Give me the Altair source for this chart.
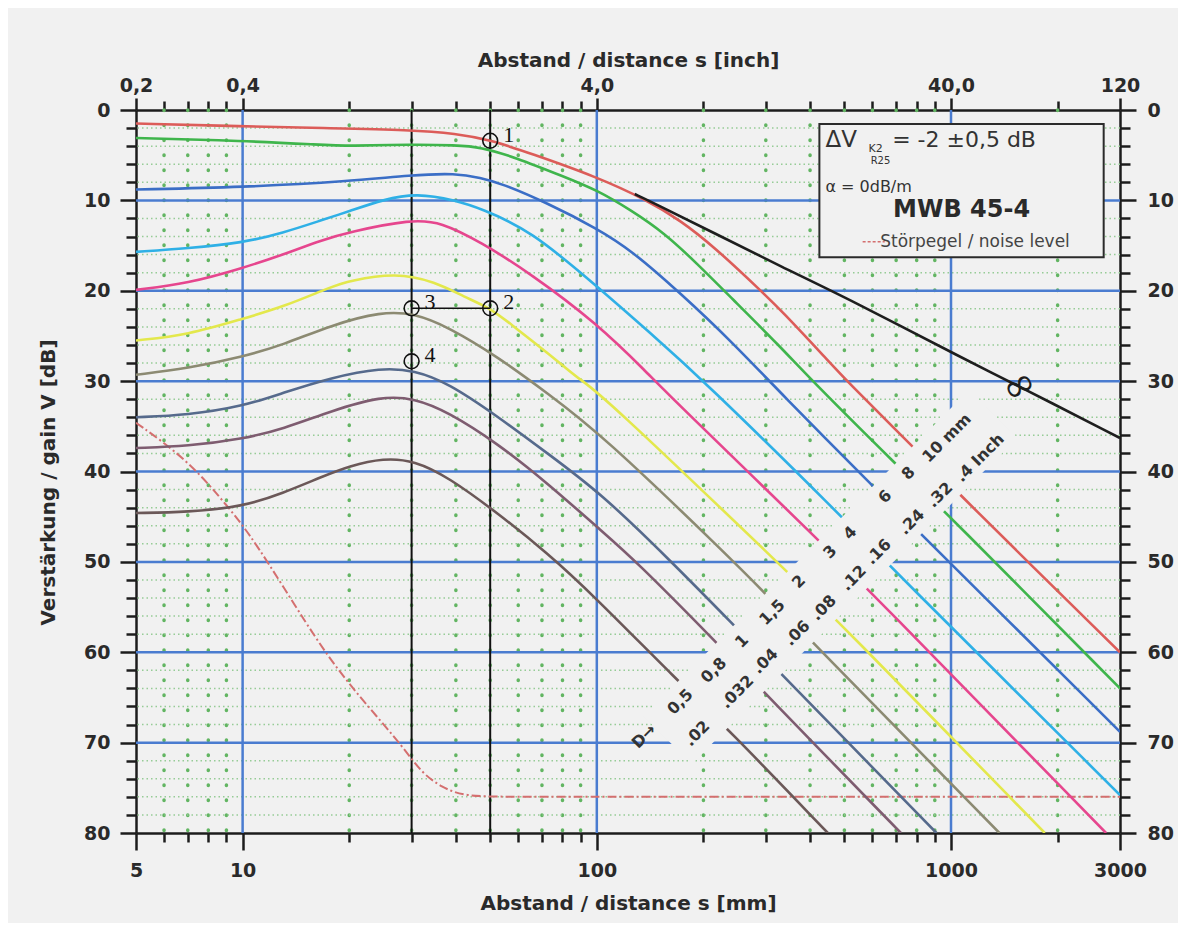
import altair as alt
import pandas as pd

PAPER = "#f1f1f1"

# ---------------- DGS curves: distance s [mm] -> gain V [dB] ----------------
curve_labels = ["10", "8", "6", "4", "3", "2", "1,5", "1", "0,8", "0,5"]
curve_colors = ["#dc5c59", "#3fb54c", "#3b6ec6", "#2fb0e6", "#e6468e",
                "#e3e84c", "#8c8a72", "#566a8c", "#7e5c70", "#6b5858"]

d10_mm = [5, 10, 16.7, 30, 40, 50, 65, 100, 139, 172, 214, 296, 330, 449, 508, 783, 1072, 3000]
d10_db = [1.5, 1.8, 2.0, 2.2, 2.6, 3.3, 4.8, 7.4, 10.0, 12.2, 15.1, 20.3, 22.1, 27.7, 30.0, 37.3, 42.8, 60.0]

d8_mm = [5, 10, 16.7, 20, 30, 40, 47, 58.5, 81, 100, 125, 155, 192, 238.5, 330, 406, 703, 983, 3000]
d8_db = [3.1, 3.4, 3.85, 4.0, 3.8, 3.9, 4.1, 5.2, 7.4, 8.85, 11.1, 13.6, 17.0, 20.7, 26.2, 30.0, 39.3, 44.8, 64.0]

d6_mm = [5, 10, 20, 30, 40, 47, 53.6, 72.6, 100, 125, 172.5, 238.5, 330, 604, 827, 3000]
d6_db = [8.8, 8.55, 7.9, 7.2, 7.0, 7.5, 8.1, 10.3, 13.1, 15.5, 20.3, 25.5, 31.3, 41.7, 47.0, 68.8]

d4_mm = [5, 7, 10, 13, 16.7, 20, 25, 31, 40, 47, 65, 100, 139, 201, 492, 673, 3000]
d4_db = [15.7, 15.3, 14.7, 13.6, 12.2, 11.2, 9.9, 9.2, 10.0, 10.9, 13.3, 19.5, 24.4, 30.0, 45.0, 50.5, 75.8]

d3_mm = [5, 7, 10, 13, 16.7, 20, 30, 36.3, 47, 65, 100, 139, 165, 423, 579, 2740]
d3_db = [19.9, 19.2, 17.5, 16.0, 14.4, 13.5, 12.1, 12.4, 14.6, 18.1, 23.6, 29.1, 32.1, 47.6, 52.9, 80.0]

d2_mm = [5, 7, 10, 13, 17.8, 20, 27, 35, 42.3, 50, 58.5, 65.2, 81, 90, 102.6, 341, 476, 1840]
d2_db = [25.5, 24.9, 23.1, 21.8, 19.55, 18.9, 18.0, 19.0, 20.7, 21.9, 24.0, 25.45, 28.4, 29.9, 31.35, 50.9, 56.4, 80.0]

d15_mm = [5, 7, 10, 13, 17.8, 24.6, 30.6, 38, 52.5, 72.6, 102.6, 238.5, 299, 409, 1370]
d15_db = [29.3, 28.6, 27.3, 26.0, 23.8, 22.3, 22.5, 24.0, 27.3, 31.35, 35.8, 49.6, 53.5, 59.0, 80.0]

d1_mm = [5, 7, 10, 13, 17.8, 24.6, 30.6, 38, 52.5, 72.6, 102.6, 158, 243.7, 333.5, 910]
d1_db = [34.0, 33.75, 32.8, 31.3, 29.6, 28.5, 28.8, 30.2, 33.9, 38.0, 42.4, 49.5, 57.0, 62.5, 80.0]

d08_mm = [5, 7, 10, 13, 17.8, 24.6, 30.6, 38, 52.5, 72.6, 102.6, 127.4, 218.8, 296, 722]
d08_db = [37.4, 37.2, 36.4, 35.3, 33.3, 31.65, 31.9, 33.4, 36.9, 41.3, 46.5, 49.7, 59.0, 64.4, 80.0]

d05_mm = [5, 7, 10, 13, 16.7, 20, 25, 30.6, 38, 52.5, 72.6, 96.6, 170.6, 233.4, 449]
d05_db = [44.6, 44.5, 43.9, 42.4, 40.6, 39.4, 38.5, 38.8, 40.6, 44.6, 49.05, 53.5, 63.3, 68.4, 80.0]

# back-wall curve (D = infinity)
inf_mm = [128, 145, 214, 330, 521, 1106, 1492, 3000]
inf_db = [9.3, 10.3, 13.6, 17.3, 21.0, 27.7, 30.2, 36.3]
inf_label_mm = [1560]
inf_label_db = [30.6]

# noise level (Störpegel)
noise_mm = [5, 7, 9.1, 10.8, 15.3, 18.6, 22.6, 28.4, 32.1, 36.4, 42.2, 60, 3000]
noise_db = [34.6, 38.7, 43.9, 47.6, 57.2, 62.0, 66.0, 70.5, 73.4, 74.9, 76.0, 76.0, 76.0]

# diagonal curve labels
mm_label_text = ["D→", "0,5", "0,8", "1", "1,5", "2", "3", "4", "6", "8", "10 mm"]
mm_label_x = [136, 172, 214, 257, 313, 372, 456, 519, 652, 758, 973]
mm_label_y = [69.3, 65.5, 62.0, 58.8, 55.6, 52.2, 48.9, 46.8, 42.8, 40.2, 36.3]
inch_label_text = [".02", ".032", ".04", ".06", ".08", ".12", ".16", ".24", ".32", ".4 Inch"]
inch_label_x = [192, 249, 299, 368, 437, 531, 624, 775, 931, 1207]
inch_label_y = [69.0, 64.4, 61.0, 57.9, 55.1, 51.8, 48.9, 45.6, 42.6, 38.5]
# blank strip behind the labels (ends of its centre line)
band_mm = [158.5, 1317]
band_db = [69.7, 33.6]

# evaluation points 1-4
pt_text = ["1", "2", "3", "4"]
pt_mm = [50, 50, 30, 30]
pt_db = [3.4, 21.94, 21.94, 27.8]
link_mm = [30]
link_mm2 = [50]
link_db = [21.94]

# grid / axis values
x_ticks = [5, 6, 7, 8, 9, 10, 20, 30, 40, 50, 60, 70, 80, 90, 100,
           200, 300, 400, 500, 600, 700, 800, 900, 1000, 2000, 3000]
x_major = [5, 10, 100, 1000, 3000]
x_top_labels = ["0,2", "0,4", "4,0", "40,0", "120"]
y_ticks = list(range(0, 81, 2))
blue_x = [10, 100, 1000]
blue_y = [10, 20, 30, 40, 50, 60, 70]
black_x = [30, 50]

# legend box
box_mm = [425]
box_mm2 = [2698]
box_db = [1.55]
box_db2 = [16.3]
leg_dv_x, leg_dv_y = [442], [3.32]
leg_eq_x, leg_eq_y = [682], [3.32]
leg_k2_x, leg_k2_y = [585], [4.35]
leg_r25_x, leg_r25_y = [593], [5.65]
leg_alpha_x, leg_alpha_y = [442], [8.5]
leg_mwb_x, leg_mwb_y = [1071], [11.07]
leg_noise_x, leg_noise_y = [631], [14.57]
leg_sample_mm, leg_sample_mm2, leg_sample_db = [563], [650], [14.57]

# ---------------- build tables ----------------
series = [(d10_mm, d10_db), (d8_mm, d8_db), (d6_mm, d6_db), (d4_mm, d4_db), (d3_mm, d3_db),
          (d2_mm, d2_db), (d15_mm, d15_db), (d1_mm, d1_db), (d08_mm, d08_db), (d05_mm, d05_db)]
rows = []
for lab, (mm, db) in zip(curve_labels, series):
    for k, (m, v) in enumerate(zip(mm, db)):
        rows.append({"D": lab, "mm": m, "dB": v, "k": k})
df_curves = pd.DataFrame(rows)
df_inf = pd.DataFrame({"mm": inf_mm, "dB": inf_db, "k": range(len(inf_mm))})
df_noise = pd.DataFrame({"mm": noise_mm, "dB": noise_db, "k": range(len(noise_mm))})

xscale = alt.Scale(type="log", domain=[5, 3000], nice=False)
yscale = alt.Scale(domain=[0, 80], reverse=True, nice=False, zero=False)

FONT = "DejaVu Sans"
INK = "#2a2a2a"
axis_style = dict(
    domainColor="#1c1c1c", domainWidth=2.5, tickColor="#1c1c1c", tickWidth=2.5,
    labelFont=FONT, labelFontWeight="bold", labelFontSize=19, labelColor=INK,
    labelOverlap=False, labelFlush=False, grid=False,
    titleFont=FONT, titleFontWeight="bold", titleFontSize=20, titleColor=INK,
)
x_test = "indexof([" + ",".join(str(v) for v in x_major) + "], datum.value) >= 0"
y_test = "datum.value % 10 === 0"
top_expr = "".join(f"datum.value === {v} ? '{t}' : " for v, t in zip(x_major, x_top_labels)) + "''"

ax_bottom = alt.Axis(orient="bottom", values=x_ticks,
                     labelExpr=f"{x_test} ? format(datum.value, 'd') : ''",
                     tickSize={"condition": {"test": x_test, "value": 17}, "value": 9},
                     labelPadding=11, title="Abstand / distance s [mm]",
                     titleY=70, titleBaseline="middle", **axis_style)
ax_top = alt.Axis(orient="top", values=x_ticks, labelExpr=top_expr,
                  tickSize={"condition": {"test": x_test, "value": 12}, "value": 9},
                  labelPadding=3, title="Abstand / distance s [inch]",
                  titleY=-50, titleBaseline="middle", **axis_style)
ax_left = alt.Axis(orient="left", values=y_ticks,
                   labelExpr=f"{y_test} ? datum.label : ''",
                   tickSize={"condition": {"test": y_test, "value": 16}, "value": 10},
                   labelPadding=10, title="Verstärkung / gain V [dB]",
                   titleX=-88, titleY=372, titleAngle=270, titleBaseline="middle", **axis_style)
ax_right = alt.Axis(orient="right", values=y_ticks,
                    labelExpr=f"{y_test} ? datum.label : ''",
                    tickSize={"condition": {"test": y_test, "value": 16}, "value": 10},
                    labelPadding=11, title=None, **axis_style)


def X(field, axis=None):
    return alt.X(f"{field}:Q", scale=xscale, axis=axis)


def Y(field, axis=None):
    return alt.Y(f"{field}:Q", scale=yscale, axis=axis)


# ---------------- grid ----------------
minor_x = [v for v in x_ticks if v not in x_major]
minor_y = [v for v in y_ticks if v % 10 != 0]
green_v = alt.Chart(pd.DataFrame({"mm": minor_x})).mark_rule(
    color="#62b562", strokeWidth=3.5, strokeDash=[0.5, 14.5], strokeCap="round").encode(x=X("mm"))
green_h = alt.Chart(pd.DataFrame({"dB": minor_y})).mark_rule(
    color="#96cc96", strokeWidth=1.5, strokeDash=[1.5, 3]).encode(y=Y("dB"))
blue_v = alt.Chart(pd.DataFrame({"mm": blue_x})).mark_rule(
    color="#4a7cd0", strokeWidth=2.5).encode(x=X("mm"))
blue_h = alt.Chart(pd.DataFrame({"dB": blue_y})).mark_rule(
    color="#4a7cd0", strokeWidth=2.5).encode(y=Y("dB"))
black_v = alt.Chart(pd.DataFrame({"mm": black_x})).mark_rule(
    color="#111111", strokeWidth=2).encode(x=X("mm"))

# ---------------- lines ----------------
noise = alt.Chart(df_noise).mark_line(
    color="#d46f6f", strokeWidth=2, strokeDash=[9, 3, 2, 3], interpolate="basis", clip=True
).encode(x=X("mm"), y=Y("dB"), order="k:Q")

curves = alt.Chart(df_curves).mark_line(strokeWidth=2.6, interpolate="basis", clip=True).encode(
    x=X("mm", ax_bottom), y=Y("dB", ax_left),
    color=alt.Color("D:N", scale=alt.Scale(domain=curve_labels, range=curve_colors), legend=None),
    order="k:Q",
)
backwall = alt.Chart(df_inf).mark_line(color="#1e1e1e", strokeWidth=2.6, interpolate="basis",
                                        clip=True).encode(
    x=X("mm", ax_top), y=Y("dB", ax_right), order="k:Q")

band = alt.Chart(pd.DataFrame({"mm": band_mm, "dB": band_db})).mark_line(
    color=PAPER, strokeWidth=68, strokeCap="butt").encode(x=X("mm"), y=Y("dB"))

# ---------------- labels ----------------
df_mm_lab = pd.DataFrame({"mm": mm_label_x, "dB": mm_label_y, "t": mm_label_text})
df_in_lab = pd.DataFrame({"mm": inch_label_x, "dB": inch_label_y, "t": inch_label_text})
lab_style = dict(font=FONT, fontWeight="bold", fontSize=16, color="#333333", angle=315,
                 align="center", baseline="middle")
mm_labels = alt.Chart(df_mm_lab).mark_text(**lab_style).encode(x=X("mm"), y=Y("dB"), text="t:N")
in_labels = alt.Chart(df_in_lab).mark_text(**lab_style).encode(x=X("mm"), y=Y("dB"), text="t:N")

inf_text = alt.Chart(pd.DataFrame({"mm": inf_label_mm, "dB": inf_label_db, "t": ["∞"]})).mark_text(
    font=FONT, fontSize=40, color="#1e1e1e", angle=330, align="center", baseline="middle"
).encode(x=X("mm"), y=Y("dB"), text="t:N")

# evaluation points
df_pts = pd.DataFrame({"mm": pt_mm, "dB": pt_db, "t": pt_text})
link = alt.Chart(pd.DataFrame({"a": link_mm, "b": link_mm2, "dB": link_db})).mark_rule(
    color="#111111", strokeWidth=1.6).encode(x=X("a"), x2="b:Q", y=Y("dB"))
pts = alt.Chart(df_pts).mark_point(shape="circle", filled=False, stroke="#111111", strokeWidth=1.6,
                                    size=220, opacity=1).encode(x=X("mm"), y=Y("dB"))
pt_labels = alt.Chart(df_pts).mark_text(font="Liberation Serif", fontSize=22, color="#111111",
                                         align="left", baseline="middle", dx=13, dy=-6).encode(
    x=X("mm"), y=Y("dB"), text="t:N")

# ---------------- legend box ----------------
box = alt.Chart(pd.DataFrame({"a": box_mm, "b": box_mm2, "c": box_db, "d": box_db2})).mark_rect(
    fill=PAPER, stroke="#2b2b2b", strokeWidth=2).encode(x=X("a"), x2="b:Q", y=Y("c"), y2="d:Q")


def legend_text(xs, ys, text, **style):
    base = dict(font=FONT, color="#333333", baseline="middle", align="left")
    base.update(style)
    return alt.Chart(pd.DataFrame({"mm": xs, "dB": ys, "t": [text]})).mark_text(**base).encode(
        x=X("mm"), y=Y("dB"), text="t:N")


leg_dv = legend_text(leg_dv_x, leg_dv_y, "ΔV", fontSize=23)
leg_k2 = legend_text(leg_k2_x, leg_k2_y, "K2", fontSize=11)
leg_r25 = legend_text(leg_r25_x, leg_r25_y, "R25", fontSize=10)
leg_eq = legend_text(leg_eq_x, leg_eq_y, "= -2 ±0,5 dB", fontSize=22)
leg_alpha = legend_text(leg_alpha_x, leg_alpha_y, "α = 0dB/m", fontSize=16)
leg_mwb = legend_text(leg_mwb_x, leg_mwb_y, "MWB 45-4", fontSize=24, fontWeight="bold",
                      align="center", color="#2a2a2a")
leg_noise = legend_text(leg_noise_x, leg_noise_y, "Störpegel / noise level", fontSize=17,
                        color="#444444")
leg_sample = alt.Chart(pd.DataFrame({"a": leg_sample_mm, "b": leg_sample_mm2, "dB": leg_sample_db})
                       ).mark_rule(color="#d46f6f", strokeWidth=1.5, strokeDash=[3, 2]).encode(
    x=X("a"), x2="b:Q", y=Y("dB"))

chart = alt.layer(
    green_v, green_h, blue_v, blue_h, black_v, noise, curves, backwall, band,
    box, leg_dv, leg_k2, leg_r25, leg_eq, leg_alpha, leg_mwb, leg_noise, leg_sample,
    mm_labels, in_labels, inf_text, link, pts, pt_labels,
).resolve_axis(x="independent", y="independent").properties(
    width=984, height=723,
    padding={"left": 128, "top": 102, "right": 58, "bottom": 90},
    autosize=alt.AutoSizeParams(type="none"),
).configure_view(stroke=None).configure(background=PAPER)

chart.save("out.html", embed_options={"renderer": "svg", "actions": False})
